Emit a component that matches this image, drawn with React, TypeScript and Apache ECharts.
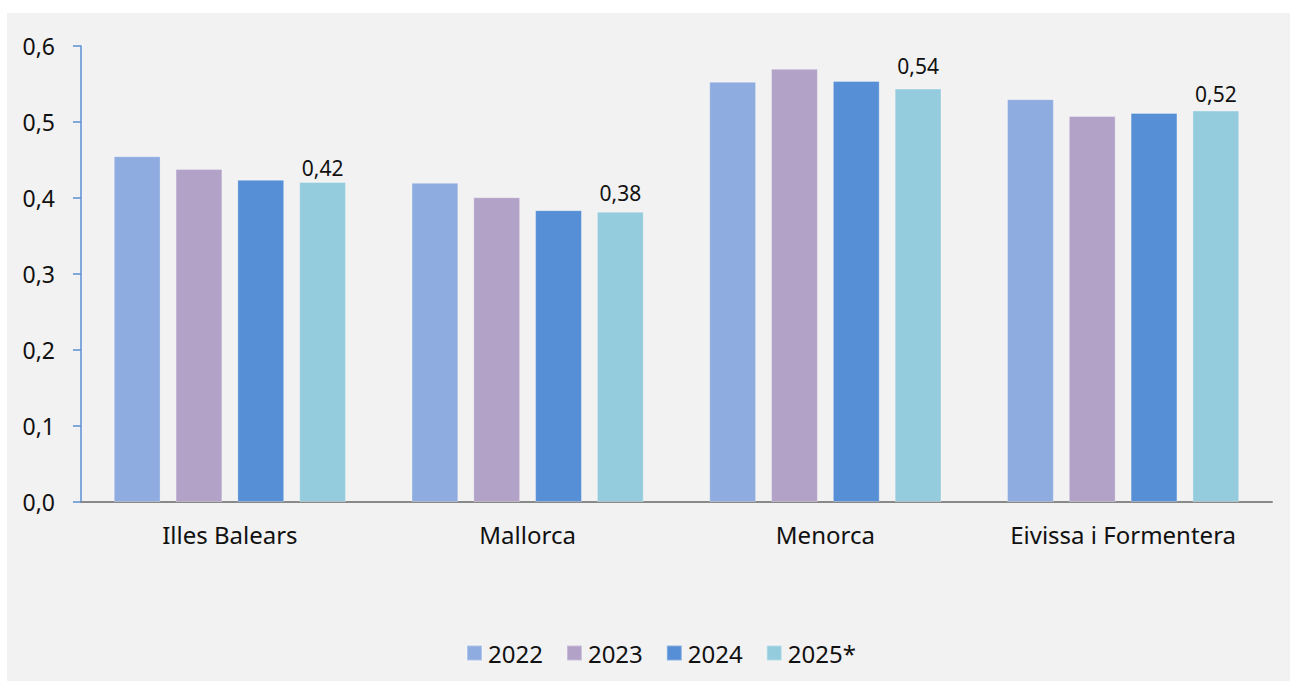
import React, { useEffect, useRef } from "react";
import * as echarts from "echarts";

const categories = ["Illes Balears", "Mallorca", "Menorca", "Eivissa i Formentera"];
const seriesNames = ["2022", "2023", "2024", "2025*"];
const values2022 = [0.455, 0.42, 0.553, 0.53];
const values2023 = [0.438, 0.401, 0.57, 0.508];
const values2024 = [0.424, 0.384, 0.554, 0.512];
const values2025 = [0.421, 0.382, 0.544, 0.515];
const yTicks = [0, 0.1, 0.2, 0.3, 0.4, 0.5, 0.6];
const colors = ["#8eace0", "#b3a2c8", "#568fd5", "#94ccdd"];
const labelDistances = [4, 8, 12, 6];

const FONT = "'Noto Sans', 'Open Sans', sans-serif";
const TEXT = "#111111";

export default function App() {
  const ref = useRef<HTMLDivElement>(null);
  useEffect(() => {
    if (!ref.current) return;
    const chart = echarts.init(ref.current, null, { renderer: "svg" });
    const data = [values2022, values2023, values2024, values2025];
    chart.setOption({
      animation: false,
      backgroundColor: "#f2f2f2",
      textStyle: { fontFamily: FONT, color: TEXT },
      grid: { left: 74, right: 18, top: 33, bottom: 179, containLabel: false },
      legend: {
        data: seriesNames,
        left: 454,
        top: 623,
        itemWidth: 15,
        itemHeight: 15,
        itemGap: 23,
        icon: "rect",
        textStyle: { fontFamily: FONT, fontSize: 24, color: TEXT, padding: [0, 0, 0, 1] },
      },
      xAxis: {
        type: "category",
        data: categories,
        axisLine: { show: true, lineStyle: { color: "#898989", width: 2 } },
        axisTick: { show: false },
        axisLabel: { fontFamily: FONT, fontSize: 24, color: TEXT, margin: 20 },
      },
      yAxis: {
        type: "value",
        min: yTicks[0],
        max: yTicks[yTicks.length - 1],
        interval: 0.1,
        axisLine: { show: true, lineStyle: { color: "#5b8fd6", width: 1.5 } },
        axisTick: { show: true, length: 8, lineStyle: { color: "#5b8fd6", width: 1.5 } },
        splitLine: { show: false },
        axisLabel: {
          fontFamily: FONT,
          fontSize: 23,
          color: TEXT,
          margin: 26,
          formatter: (v: number) => v.toFixed(1).replace(".", ","),
        },
      },
      series: seriesNames.map((name, i) => ({
        name,
        type: "bar",
        data: data[i].map((v, j) =>
          i === 3 ? { value: v, label: { distance: labelDistances[j] } } : v
        ),
        barGap: "32%",
        barCategoryGap: "22%",
        itemStyle: {
          color: colors[i],
          borderColor: "rgba(255,255,255,0.3)",
          borderWidth: 1,
        },
        label:
          i === 3
            ? {
                show: true,
                position: "top",
                fontFamily: FONT,
                fontSize: 21,
                color: TEXT,
                formatter: (p: any) => Number(p.value).toFixed(2).replace(".", ","),
              }
            : { show: false },
      })),
    });
    return () => chart.dispose();
  }, []);
  return (
    <div style={{ position: "absolute", left: 0, top: 0, width: 1290, height: 682, background: "#ffffff" }}>
      <div ref={ref} style={{ position: "absolute", left: 7, top: 13, width: 1283, height: 668 }} />
    </div>
  );
}
